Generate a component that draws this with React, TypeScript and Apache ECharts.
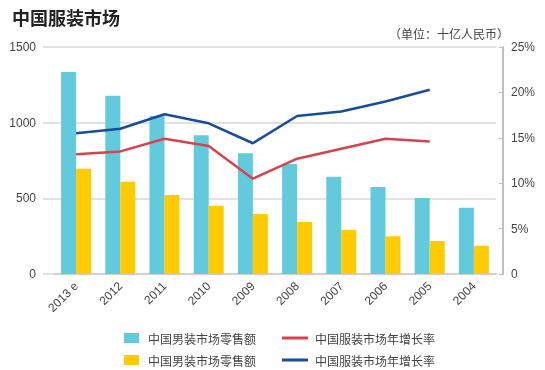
import React, { useEffect, useRef } from "react";
import * as echarts from "echarts";

const categories = ["2013 e", "2012", "2011", "2010", "2009", "2008", "2007", "2006", "2005", "2004"];
const menswearA = [1335, 1178, 1044, 917, 798, 727, 643, 575, 502, 438];
const menswearB = [696, 610, 522, 451, 396, 344, 291, 249, 218, 187];
const growthRed = [13.2, 13.5, 14.9, 14.1, 10.5, 12.7, 13.8, 14.9, 14.6, null];
const growthBlue = [15.5, 16.0, 17.6, 16.6, 14.4, 17.4, 17.9, 19.0, 20.3, null];
const leftTicks = [0, 500, 1000, 1500];
const rightTicks = [0, 5, 10, 15, 20, 25];

const labels: Record<string, string> = {
  s1: "中国男装市场零售额",
  s2: "中国男装市场零售额",
  s3: "中国服装市场年增长率",
  s4: "中国服装市场年增长率",
};

const FONT = "'Liberation Sans', 'Noto Sans CJK SC', sans-serif";
const CJK = "'Noto Sans CJK SC', sans-serif";
const CYAN = "#63C9DD";
const YELLOW = "#FFCB05";
const RED = "#D6434F";
const BLUE = "#1A4C9C";
const GRID = "#D9D9D9";

export default function App() {
  const ref = useRef<HTMLDivElement>(null);
  useEffect(() => {
    if (!ref.current) return;
    const chart = echarts.init(ref.current, undefined, { renderer: "svg" });
    const legendBase = {
      orient: "vertical",
      top: 332,
      height: 38,
      padding: 0,
      itemGap: 10,
      icon: "rect",
      formatter: (n: string) => labels[n],
    };
    chart.setOption({
      animation: false,
      textStyle: { fontFamily: FONT },
      title: [
        {
          text: "中国服装市场",
          left: 7,
          top: 3,
          textStyle: { fontSize: 18, fontWeight: "bold", color: "#222", fontFamily: CJK },
        },
        {
          text: "（单位：十亿人民币）",
          right: 31,
          top: 22,
          textStyle: { fontSize: 12, fontWeight: "normal", color: "#444", fontFamily: CJK },
        },
      ],
      legend: [
        {
          ...legendBase,
          left: 124,
          itemWidth: 15,
          itemHeight: 10,
          data: ["s1", "s2"],
          textStyle: { fontSize: 12, color: "#444", fontFamily: CJK, padding: [0, 0, 0, 4] },
        },
        {
          ...legendBase,
          left: 282,
          itemWidth: 26,
          itemHeight: 3,
          data: ["s3", "s4"],
          textStyle: { fontSize: 12, color: "#444", fontFamily: CJK, padding: [0, 0, 0, 2] },
        },
      ],
      grid: { left: 54, right: 49, top: 47, bottom: 96, containLabel: false },
      xAxis: {
        type: "category",
        data: categories,
        axisLine: { lineStyle: { color: "#D0D0D0", width: 2 } },
        axisTick: { show: false },
        axisLabel: { rotate: 45, fontSize: 12, color: "#444", margin: 10, interval: 0 },
      },
      yAxis: [
        {
          type: "value",
          min: leftTicks[0],
          max: leftTicks[leftTicks.length - 1],
          interval: 500,
          axisLine: { show: false },
          axisTick: { show: true, length: 11, lineStyle: { color: GRID, width: 1.5 } },
          splitLine: { lineStyle: { color: GRID, width: 1.5 } },
          axisLabel: { fontSize: 12, color: "#444", margin: 18, formatter: (v: number) => String(v) },
        },
        {
          type: "value",
          position: "right",
          offset: 7,
          min: rightTicks[0],
          max: rightTicks[rightTicks.length - 1],
          interval: 5,
          axisLine: { show: true, lineStyle: { color: "#BFBFBF", width: 2 } },
          axisTick: { show: true, inside: true, length: 4, lineStyle: { color: "#BFBFBF" } },
          splitLine: { show: false },
          axisLabel: {
            fontSize: 12,
            color: "#444",
            margin: 8,
            formatter: (v: number) => (v === 0 ? "0" : v + "%"),
          },
        },
      ],
      series: [
        { name: "s1", type: "bar", data: menswearA, barWidth: 15, barGap: "0%", itemStyle: { color: CYAN } },
        { name: "s2", type: "bar", data: menswearB, barWidth: 15, barGap: "0%", itemStyle: { color: YELLOW } },
        {
          name: "s3",
          type: "line",
          yAxisIndex: 1,
          data: growthRed,
          symbol: "none",
          itemStyle: { color: RED },
          lineStyle: { color: RED, width: 2.5 },
        },
        {
          name: "s4",
          type: "line",
          yAxisIndex: 1,
          data: growthBlue,
          symbol: "none",
          itemStyle: { color: BLUE },
          lineStyle: { color: BLUE, width: 2.5 },
        },
      ],
    });
    return () => chart.dispose();
  }, []);
  return <div ref={ref} style={{ position: "fixed", left: 0, top: 0, width: 545, height: 370 }} />;
}
